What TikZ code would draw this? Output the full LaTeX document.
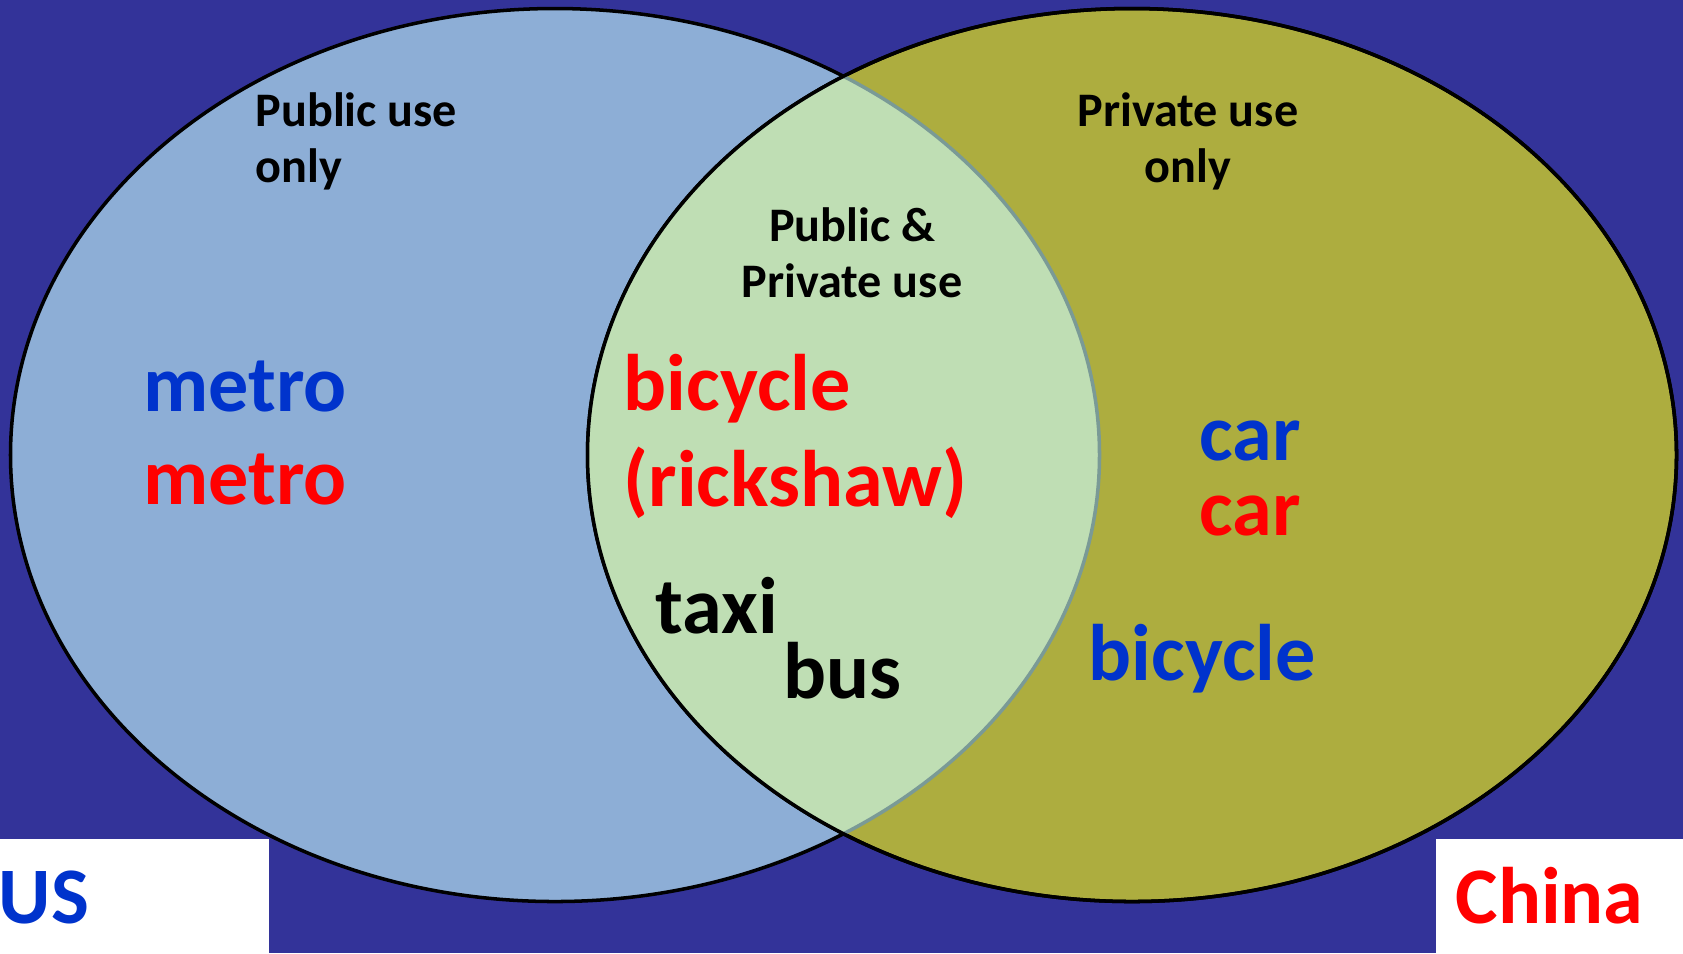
\documentclass[tikz,border=0pt]{standalone}
\usepackage{fontspec}
\setmainfont{Carlito}
\usepackage{tikz}
\definecolor{slideblue}{RGB}{51,51,153}
\definecolor{usfill}{RGB}{141,174,214}
\definecolor{chinafill}{RGB}{173,173,63}
\definecolor{bothfill}{RGB}{191,222,180}
\definecolor{innerline}{RGB}{122,154,150}
\definecolor{usblue}{RGB}{0,51,204}
\definecolor{cnred}{RGB}{255,0,0}
\tikzset{smalltext/.style={font=\bfseries\fontsize{13.7}{15.65}\selectfont,inner sep=0},
	bigtext/.style={font=\bfseries\fontsize{22.8}{27.2}\selectfont,inner sep=0},
	setline/.style={line width=1pt}}
\begin{document}
\begin{tikzpicture}[x=0.01cm,y=-0.01cm]
		\useasboundingbox (0,0) rectangle (1683,953);
		\fill[slideblue] (0,0) rectangle (1683,953);
		\fill[white] (0,839) rectangle (269,953);
		\fill[white] (1436,839) rectangle (1683,953);
		%
		\filldraw[setline,fill=usfill] (555,455) ellipse [x radius=544.5,y radius=446.5];
		\filldraw[setline,fill=chinafill] (1132,455) ellipse [x radius=544.5,y radius=446.5];
		\begin{scope}
			\clip (555,455) ellipse [x radius=544.5,y radius=446.5];
			\fill[bothfill] (1132,455) ellipse [x radius=544.5,y radius=446.5];
		\end{scope}
		\begin{scope}
			\clip (1132,455) ellipse [x radius=544.5,y radius=446.5];
			\draw[setline,innerline] (555,455) ellipse [x radius=544.5,y radius=446.5];
		\end{scope}
		\draw[setline] (1132,455) ellipse [x radius=544.5,y radius=446.5];
		%
		\node[smalltext,anchor=base west,align=left] (pubonly) at (255,182) {Public use\\only};
		\node[smalltext,anchor=base,align=center] (privonly) at (1188,182) {Private use\\only};
		\node[smalltext,anchor=base,align=center] (both) at (852,297) {Public \&\\Private use};
		%
		\node[bigtext,anchor=base west,text=usblue] (metrous) at (143,411) {metro};
		\node[bigtext,anchor=base west,text=cnred] (metrocn) at (143,504) {metro};
		\node[bigtext,anchor=base west,text=cnred,align=left] (bikecn) at (623,506) {bicycle\\(rickshaw)};
		\node[bigtext,anchor=base west] (taxi) at (655,633) {taxi};
		\node[bigtext,anchor=base west] (bus) at (783,698) {bus};
		\node[bigtext,anchor=base west,text=usblue] (carus) at (1199,460) {car};
		\node[bigtext,anchor=base west,text=cnred] (carcn) at (1199,535) {car};
		\node[bigtext,anchor=base west,text=usblue] (bikeus) at (1088,680) {bicycle};
		%
		\node[bigtext,anchor=base west,text=usblue] (us) at (-2,923) {US};
		\node[bigtext,anchor=base west,text=cnred] (china) at (1455,923) {China};
\end{tikzpicture}
\end{document}
